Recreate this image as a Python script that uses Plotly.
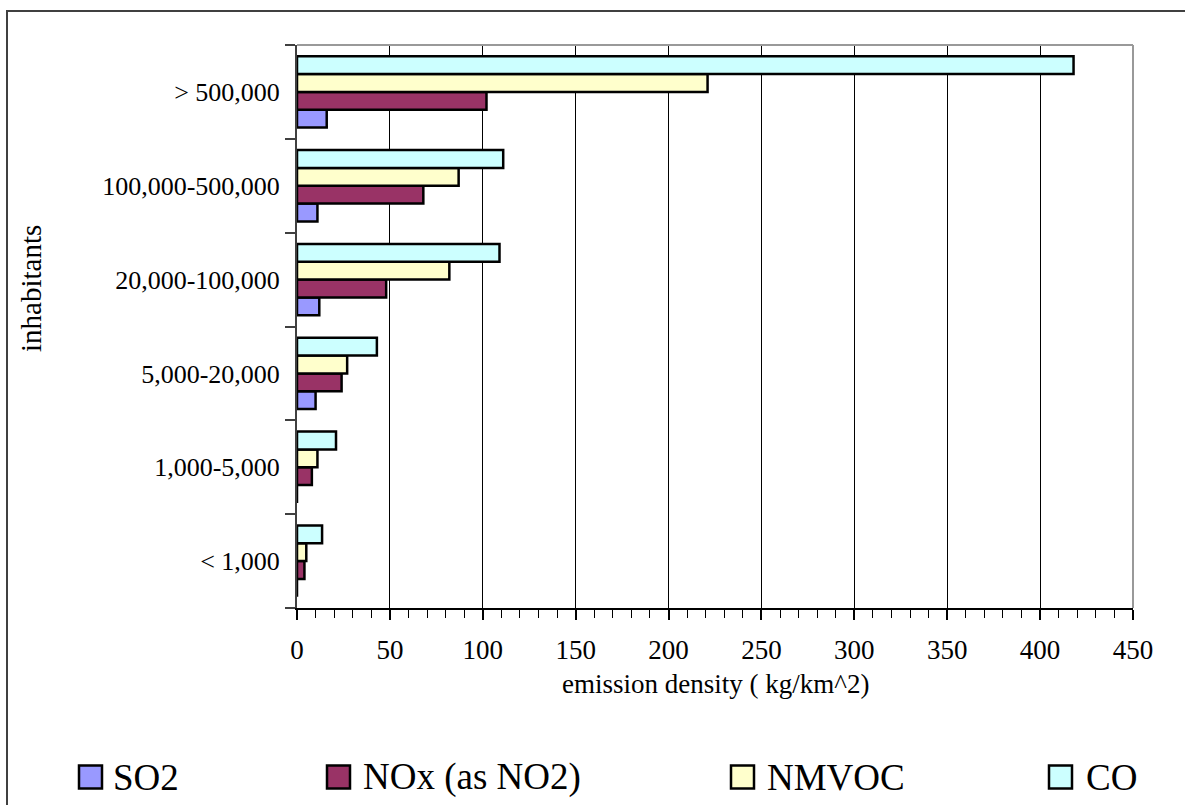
import plotly.graph_objects as go

# Emission density by settlement size class
categories = ["< 1,000", "1,000-5,000", "5,000-20,000", "20,000-100,000",
              "100,000-500,000", "> 500,000"]
so2 = [0, 0, 10, 12, 11, 16]
nox = [4, 8, 24, 48, 68, 102]
nmvoc = [5, 11, 27, 82, 87, 221]
co = [13.5, 21, 43, 109, 111, 418]

series_names = ["SO2", "NOx (as NO2)", "NMVOC", "CO"]
series_values = [so2, nox, nmvoc, co]
series_colors = ["#9999FF", "#993366", "#FFFFCC", "#CCFFFF"]

x_ticks = list(range(0, 451, 50))

W, H = 1185, 805
ML, MR, MT, MB = 297, 52, 45, 197
PW, PH = W - ML - MR, H - MT - MB


def px_x(px):
    return (px - ML) / PW


def px_y(py):
    return (H - MB - py) / PH


FONT = "Liberation Serif, Times New Roman, serif"

fig = go.Figure()
for name, vals, col in zip(series_names, series_values, series_colors):
    fig.add_trace(go.Bar(
        y=categories, x=vals, name=name, orientation="h",
        marker=dict(color=col, line=dict(color="black", width=2.5)),
        showlegend=False,
    ))

shapes = [
    # outer chart frame
    dict(type="rect", xref="paper", yref="paper",
         x0=px_x(7), y0=px_y(830), x1=px_x(1220), y1=px_y(11),
         line=dict(color="#404040", width=2), layer="below"),
    # plot area border (top and right)
    dict(type="line", xref="paper", yref="paper", x0=0, x1=1, y0=1, y1=1,
         line=dict(color="#999999", width=2), layer="above"),
    dict(type="line", xref="paper", yref="paper", x0=1, x1=1, y0=0, y1=1,
         line=dict(color="#999999", width=2), layer="above"),
]

annotations = [
    dict(text="inhabitants", xref="paper", yref="paper", x=px_x(31), y=px_y(289),
         textangle=-90, showarrow=False, font=dict(family=FONT, size=29, color="black"),
         xanchor="center", yanchor="middle"),
    dict(text="emission density ( kg/km^2)", xref="paper", yref="paper",
         x=px_x(715), y=px_y(684), showarrow=False,
         font=dict(family=FONT, size=27, color="black"),
         xanchor="center", yanchor="middle"),
]

# legend row drawn along the bottom
legend_sq_x = [79, 327, 731, 1049]
legend_tx_x = [111, 361, 765, 1084]
sq, ly = 23, 777
for name, col, sx, tx in zip(series_names, series_colors, legend_sq_x, legend_tx_x):
    shapes.append(dict(type="rect", xref="paper", yref="paper",
                       x0=px_x(sx), x1=px_x(sx + sq),
                       y0=px_y(ly + sq / 2), y1=px_y(ly - sq / 2),
                       fillcolor=col, line=dict(color="black", width=2.5)))
    annotations.append(dict(text=name, xref="paper", yref="paper",
                            x=px_x(tx), y=px_y(ly), showarrow=False,
                            xanchor="left", yanchor="middle",
                            font=dict(family=FONT, size=37, color="black")))

fig.update_layout(
    width=W, height=H, autosize=False,
    margin=dict(l=ML, r=MR, t=MT, b=MB, pad=0),
    paper_bgcolor="white", plot_bgcolor="white",
    barmode="group", bargap=0.24, bargroupgap=0,
    shapes=shapes, annotations=annotations,
    xaxis=dict(
        range=[0, 450], tickvals=x_ticks, ticktext=[str(v) for v in x_ticks],
        showgrid=True, gridcolor="black", gridwidth=1, zeroline=False,
        ticks="outside", ticklen=10, tickwidth=1.5, tickcolor="black",
        minor=dict(dtick=10, tick0=0, ticks="outside", ticklen=8,
                   tickwidth=1.2, tickcolor="black", showgrid=False),
        showline=True, linecolor="black", linewidth=1.5,
        tickfont=dict(family=FONT, size=27, color="black"),
        ticklabelstandoff=7,
    ),
    xaxis2=dict(
        overlaying="x", anchor="y", side="bottom", range=[0, 450],
        dtick=10, tick0=0, ticks="inside", ticklen=8, tickwidth=1.2,
        tickcolor="black", showticklabels=False, showgrid=False,
        zeroline=False, showline=False,
    ),
    yaxis=dict(
        type="category", categoryorder="array", categoryarray=categories,
        tickson="boundaries", ticks="outside", ticklen=10, tickwidth=2,
        tickcolor="#404040", showline=True, linecolor="#404040", linewidth=2,
        showgrid=False, zeroline=False,
        tickfont=dict(family=FONT, size=26, color="black"),
        ticklabelstandoff=10,
    ),
)

fig.write_html("out.html")
